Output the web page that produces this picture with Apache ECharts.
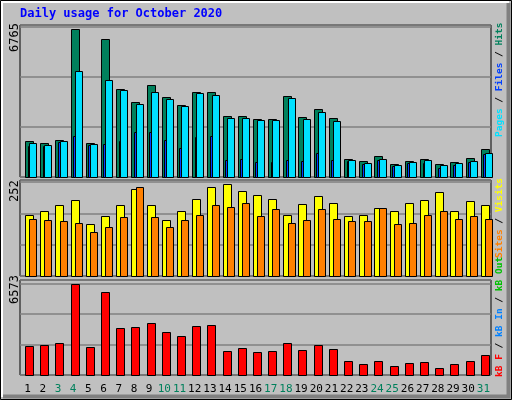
<!DOCTYPE html>
<html>
<head><meta charset="utf-8"></head>
<body style="margin:0">
<div id="c" style="width:512px;height:400px"></div>
<script src="https://cdn.jsdelivr.net/npm/echarts@6/dist/echarts.min.js"></script>
<script>
var days = ['1','2','3','4','5','6','7','8','9','10','11','12','13','14','15','16','17','18','19','20','21','22','23','24','25','26','27','28','29','30','31'];
var weekend = ['3','4','10','11','17','18','24','25','31'];
var hits  = [1631,1540,1677,6765,1540,6339,4008,3414,4236,3642,3277,3916,3916,2774,2774,2637,2637,3688,2728,3094,2683,809,717,946,580,717,809,580,672,855,1266];
var files = [1540,1449,1631,4876,1494,4465,3962,3322,3916,3551,3231,3825,3734,2683,2683,2591,2591,3597,2637,2957,2545,763,626,809,535,672,763,535,626,717,1083];
var pages = [1430,1417,1600,1874,1449,1508,1631,2043,2043,1691,1325,1814,1874,763,809,672,672,763,717,1083,763,717,580,763,489,626,626,398,535,672,1037];
var visits = [169,180,194,208,142,164,194,238,194,153,180,213,246,252,235,222,211,167,197,219,202,164,167,186,180,200,208,230,178,205,194];
var sites  = [158,153,150,147,120,134,161,246,161,134,153,167,194,189,202,164,183,147,153,183,158,150,150,186,142,147,167,180,156,164,158];
var kbytes = [2095,2167,2312,6573,2023,5996,3395,3468,3756,3106,2817,3540,3612,1734,1950,1662,1734,2312,1806,2167,1878,1011,795,1011,650,867,939,506,795,1011,1445];

function barSeries(data, gi, color, x0, x1, z) {
  return {
    type: 'custom', xAxisIndex: gi, yAxisIndex: gi, z: z,
    data: data.map(function (v, i) { return [i, v]; }),
    renderItem: function (params, api) {
      var top = api.coord([api.value(0), api.value(1)]);
      var base = api.coord([api.value(0), 0]);
      var w = api.size([1, 0])[0];
      var s = top[0] - w / 2;
      return {
        type: 'rect',
        shape: { x: Math.round(s + x0) + 0.5, y: Math.round(top[1]) + 0.5, width: Math.round(x1 - x0), height: Math.round(base[1] - top[1]) },
        style: { fill: color, stroke: '#000', lineWidth: 1 }
      };
    }
  };
}

function yAx(gi, max, interval) {
  return { gridIndex: gi, type: 'value', min: 0, max: max, interval: interval,
    axisLabel: { show: false }, axisLine: { show: false }, axisTick: { show: false },
    splitLine: { lineStyle: { color: '#808080', width: 1.5 } } };
}
function xAx(gi, labels) {
  return { gridIndex: gi, type: 'category', data: days, boundaryGap: true,
    axisLine: { show: false }, axisTick: { show: false },
    axisLabel: labels ? { show: true, interval: 0, margin: 9, fontFamily: 'DejaVu Sans Mono', fontSize: 11,
      color: function (v) { return weekend.indexOf(v) >= 0 ? '#00805c' : '#000'; } } : { show: false } };
}

var mono = 'DejaVu Sans Mono';
var lf = 'bold 9.5px ' + mono;
var chart = echarts.init(document.getElementById('c'));
chart.setOption({
  backgroundColor: '#c0c0c0',
  animation: false,
  grid: [
    { left: 20, width: 471, top: 25, height: 152, show: true, borderColor: '#000', borderWidth: 1 },
    { left: 20, width: 471, top: 180, height: 96, show: true, borderColor: '#000', borderWidth: 1 },
    { left: 20, width: 471, top: 280, height: 95, show: true, borderColor: '#000', borderWidth: 1 }
  ],
  xAxis: [xAx(0, false), xAx(1, false), xAx(2, true)],
  yAxis: [yAx(0, 6962, 2300), yAx(1, 264, 86), yAx(2, 6862, 2200)],
  series: [
    barSeries(hits, 0, '#00805c', 5, 13, 2),
    barSeries(pages, 0, '#0040ff', 7.5, 9.5, 3),
    barSeries(files, 0, '#00e0ff', 9.3, 16.7, 4),
    barSeries(visits, 1, '#ffff00', 5, 13, 2),
    barSeries(sites, 1, '#ff8000', 9.3, 16.7, 3),
    barSeries(kbytes, 2, '#ff0000', 5, 13, 2)
  ],
  graphic: [
    { type: 'rect', shape: { x: 0.5, y: 0.5, width: 511, height: 399 }, style: { fill: 'none', stroke: '#000', lineWidth: 1 }, silent: true },
    { type: 'polyline', shape: { points: [[2, 397], [2, 2], [509, 2]] }, style: { stroke: '#fff', lineWidth: 2, fill: 'none' } },
    { type: 'polyline', shape: { points: [[3, 396.5], [508.5, 396.5], [508.5, 3]] }, style: { stroke: '#808080', lineWidth: 4, fill: 'none' } },
    { type: 'text', left: 20, top: 8, style: { text: 'Daily usage for October 2020', font: 'bold 12px ' + mono, fill: '#0000ff' } },
    { type: 'text', x: 9, y: 52, rotation: Math.PI / 2, style: { text: '6765', font: '12px ' + mono, fill: '#000' } },
    { type: 'text', x: 9, y: 202, rotation: Math.PI / 2, style: { text: '252', font: '12px ' + mono, fill: '#000' } },
    { type: 'text', x: 9, y: 304, rotation: Math.PI / 2, style: { text: '6573', font: '12px ' + mono, fill: '#000' } },
    { type: 'text', x: 495, y: 137, rotation: Math.PI / 2, style: {
      text: '{p|Pages}{s| / }{f|Files}{s| / }{h|Hits}', font: lf,
      rich: { p: { fill: '#00e0ff', font: lf }, f: { fill: '#0040ff', font: lf },
              h: { fill: '#00805c', font: lf }, s: { fill: '#000', font: lf } } } },
    { type: 'text', x: 495, y: 258, rotation: Math.PI / 2, style: {
      text: '{o|Sites}{s| / }{v|Visits}', font: lf,
      rich: { o: { fill: '#ff8000', font: lf }, v: { fill: '#ffff00', font: lf },
              s: { fill: '#000', font: lf } } } },
    { type: 'text', x: 495, y: 377, rotation: Math.PI / 2, style: {
      text: '{r|kB F}{s| / }{b|kB In}{s| / }{g|kB Out}', font: lf,
      rich: { r: { fill: '#ff0000', font: lf }, b: { fill: '#0080ff', font: lf },
              g: { fill: '#00c000', font: lf }, s: { fill: '#000', font: lf } } } }
  ]
});
</script>
</body>
</html>
